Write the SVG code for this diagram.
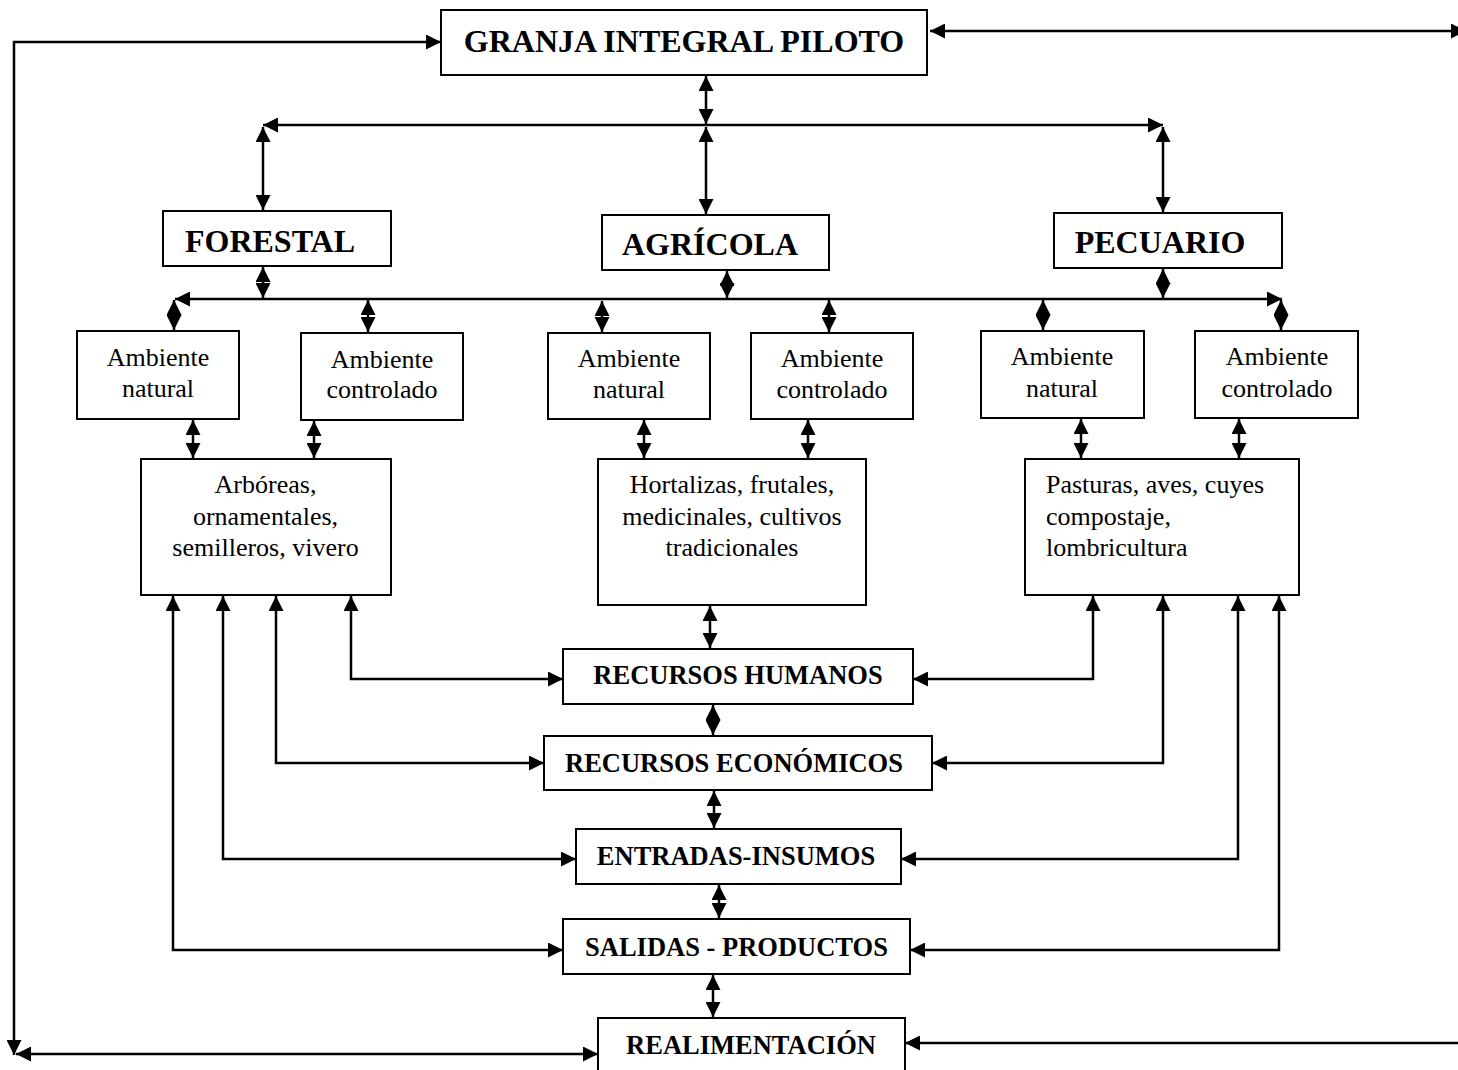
<svg xmlns="http://www.w3.org/2000/svg" width="1458" height="1070" viewBox="0 0 1458 1070">
  <style>
    .box { fill: #fff; stroke: #000; stroke-width: 2; }
    .title { font-family: "Liberation Serif", "Times New Roman", serif; font-weight: bold; fill: #000; }
    .big { font-size: 32px; }
    .mid { font-size: 26.5px; }
    .txt { font-family: "Liberation Serif", "Times New Roman", serif; font-size: 26px; fill: #000; }
    .c { text-anchor: middle; }
    .link { fill: none; stroke: #000; stroke-width: 2.5; }
    .both { marker-start: url(#head); marker-end: url(#head); }
    .end { marker-end: url(#head); }
    .start { marker-start: url(#head); }
  </style>
  <defs>
    <marker id="head" viewBox="0 0 10 10" refX="10" refY="5" markerWidth="15" markerHeight="15" markerUnits="userSpaceOnUse" orient="auto-start-reverse">
      <path d="M0,0 L10,5 L0,10 z" fill="#000"/>
    </marker>
  </defs>

  <rect width="1458" height="1070" fill="#fff"/>

  <!-- nodes -->
  <g id="granja">
    <rect class="box" x="441" y="10" width="486" height="65"/>
    <text class="title big c" x="684" y="52">GRANJA INTEGRAL PILOTO</text>
  </g>
  <g id="forestal">
    <rect class="box" x="163" y="211" width="228" height="55"/>
    <text class="title big c" x="270" y="252">FORESTAL</text>
  </g>
  <g id="agricola">
    <rect class="box" x="602" y="215" width="227" height="55"/>
    <text class="title big c" x="710" y="255">AGRÍCOLA</text>
  </g>
  <g id="pecuario">
    <rect class="box" x="1054" y="213" width="228" height="55"/>
    <text class="title big c" x="1160" y="253">PECUARIO</text>
  </g>

  <g id="forestal-natural">
    <rect class="box" x="77" y="331" width="162" height="88"/>
    <text class="txt c" x="158" y="366">Ambiente</text>
    <text class="txt c" x="158" y="397">natural</text>
  </g>
  <g id="forestal-controlado">
    <rect class="box" x="301" y="333" width="162" height="87"/>
    <text class="txt c" x="382" y="368">Ambiente</text>
    <text class="txt c" x="382" y="398">controlado</text>
  </g>
  <g id="agricola-natural">
    <rect class="box" x="548" y="333" width="162" height="86"/>
    <text class="txt c" x="629" y="367">Ambiente</text>
    <text class="txt c" x="629" y="398">natural</text>
  </g>
  <g id="agricola-controlado">
    <rect class="box" x="751" y="333" width="162" height="86"/>
    <text class="txt c" x="832" y="367">Ambiente</text>
    <text class="txt c" x="832" y="398">controlado</text>
  </g>
  <g id="pecuario-natural">
    <rect class="box" x="981" y="331" width="163" height="87"/>
    <text class="txt c" x="1062" y="365">Ambiente</text>
    <text class="txt c" x="1062" y="397">natural</text>
  </g>
  <g id="pecuario-controlado">
    <rect class="box" x="1195" y="331" width="163" height="87"/>
    <text class="txt c" x="1277" y="365">Ambiente</text>
    <text class="txt c" x="1277" y="397">controlado</text>
  </g>

  <g id="forestal-especies">
    <rect class="box" x="141" y="459" width="250" height="136"/>
    <text class="txt c" x="265.5" y="493">Arbóreas,</text>
    <text class="txt c" x="265.5" y="525">ornamentales,</text>
    <text class="txt c" x="265.5" y="556">semilleros, vivero</text>
  </g>
  <g id="agricola-cultivos">
    <rect class="box" x="598" y="459" width="268" height="146"/>
    <text class="txt c" x="732" y="493">Hortalizas, frutales,</text>
    <text class="txt c" x="732" y="525">medicinales, cultivos</text>
    <text class="txt c" x="732" y="556">tradicionales</text>
  </g>
  <g id="pecuario-especies">
    <rect class="box" x="1025" y="459" width="274" height="136"/>
    <text class="txt" x="1046" y="493">Pasturas, aves, cuyes</text>
    <text class="txt" x="1046" y="525">compostaje,</text>
    <text class="txt" x="1046" y="556">lombricultura</text>
  </g>

  <g id="recursos-humanos">
    <rect class="box" x="563" y="649" width="350" height="55"/>
    <text class="title mid c" x="738" y="684">RECURSOS HUMANOS</text>
  </g>
  <g id="recursos-economicos">
    <rect class="box" x="544" y="736" width="388" height="54"/>
    <text class="title mid c" x="734" y="772">RECURSOS ECONÓMICOS</text>
  </g>
  <g id="entradas-insumos">
    <rect class="box" x="576" y="829" width="325" height="55"/>
    <text class="title mid c" x="736" y="865">ENTRADAS-INSUMOS</text>
  </g>
  <g id="salidas-productos">
    <rect class="box" x="563" y="919" width="347" height="55"/>
    <text class="title mid c" x="736.5" y="956">SALIDAS - PRODUCTOS</text>
  </g>
  <g id="realimentacion">
    <rect class="box" x="598" y="1018" width="307" height="62"/>
    <text class="title mid c" x="751" y="1054">REALIMENTACIÓN</text>
  </g>

  <!-- connectors -->
  <g id="connectors">
    <!-- outer feedback loop -->
    <path class="link start end" d="M441,42 H14 V1055"/>
    <path class="link both" d="M598,1054 H16"/>
    <path class="link both" d="M930,31 H1466"/>
    <path class="link start" d="M905,1043 H1460"/>

    <!-- granja to the three areas -->
    <path class="link both" d="M706,76 V124"/>
    <path class="link both" d="M263,125 H1163"/>
    <path class="link both" d="M263,127 V210"/>
    <path class="link both" d="M706,127 V214"/>
    <path class="link both" d="M1163,127 V212"/>

    <!-- areas to the ambient bus -->
    <path class="link both" d="M263,267 V298"/>
    <path class="link both" d="M727,271 V298"/>
    <path class="link both" d="M1163,269 V298"/>
    <path class="link both" d="M175,299 H1282"/>

    <!-- bus to ambient boxes -->
    <path class="link both" d="M174,300 V330"/>
    <path class="link both" d="M368,300 V332"/>
    <path class="link both" d="M602,301 V332"/>
    <path class="link both" d="M829,300 V332"/>
    <path class="link both" d="M1043,300 V330"/>
    <path class="link both" d="M1281,300 V330"/>

    <!-- ambient boxes to production boxes -->
    <path class="link both" d="M193,420 V458"/>
    <path class="link both" d="M314,421 V458"/>
    <path class="link both" d="M644,420 V458"/>
    <path class="link both" d="M808,420 V458"/>
    <path class="link both" d="M1081,419 V458"/>
    <path class="link both" d="M1239,419 V458"/>

    <!-- central chain -->
    <path class="link both" d="M710,606 V648"/>
    <path class="link both" d="M713,705 V735"/>
    <path class="link both" d="M714,791 V828"/>
    <path class="link both" d="M719,885 V918"/>
    <path class="link both" d="M713,975 V1017"/>

    <!-- forestal side feeds -->
    <path class="link both" d="M563,679 H351 V596"/>
    <path class="link both" d="M544,763 H276 V596"/>
    <path class="link both" d="M576,859 H223 V596"/>
    <path class="link both" d="M563,950 H173 V596"/>

    <!-- pecuario side feeds -->
    <path class="link both" d="M913,679 H1093 V596"/>
    <path class="link both" d="M932,763 H1163 V596"/>
    <path class="link both" d="M901,859 H1238 V596"/>
    <path class="link both" d="M910,950 H1279 V596"/>
  </g>
</svg>
